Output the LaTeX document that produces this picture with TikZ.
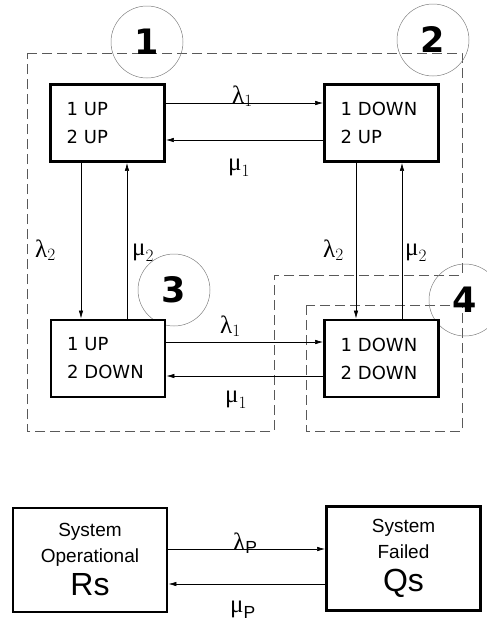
\documentclass[tikz,border=0pt]{standalone}
\usepackage{amsmath}
\usepackage{fontspec}
\setsansfont{Liberation Sans}
\newfontfamily\statefont{DejaVu Sans}
\newfontfamily\greekfont{Liberation Serif}
\newcommand{\gl}{\text{\greekfont λ}}
\newcommand{\gm}{\text{\greekfont μ}}
\usetikzlibrary{arrows.meta}

\begin{document}
\begin{tikzpicture}[x=1pt,y=-1pt,
  >={Latex[length=8pt,width=4.5pt]},
  state/.style={draw,fill=white,line width=2.8pt,minimum height=77pt,text width=82pt,inner xsep=16pt,align=left,font=\statefont\fontsize{18}{28}\selectfont},
  sysbox/.style={draw,fill=white,line width=2.8pt,minimum width=154pt,minimum height=104pt,align=center,font=\sffamily\fontsize{19}{26}\selectfont},
  flow/.style={->,line width=0.6pt},
  rate/.style={anchor=base west,inner sep=0pt,font=\fontsize{25}{25}\selectfont},
  region/.style={gray!70!black,line width=0.7pt,dash pattern=on 10pt off 5pt},
  tag/.style={circle,draw=gray,line width=0.5pt,minimum size=72pt,inner sep=0pt,font=\statefont\bfseries\fontsize{35}{35}\selectfont}]
\useasboundingbox (0,0) rectangle (487,622);
% dashed groups
\draw[region] (27,53) -- (462,53) -- (462,275) -- (274,275) -- (274,431) -- (27,431) -- cycle;
\draw[region] (306,305) rectangle (462,431);
% state numbers
\node[tag] (t1) at (147,42) {1};
\node[tag] (t2) at (433,40) {2};
\node[tag] (t3) at (174,290) {3};
\node[tag] (t4) at (465,300) {4};
% states
\node[state] (s1) at (107.5,123) {1 UP\\2 UP};
\node[state] (s2) at (381.5,123) {1 DOWN\\2 UP};
\node[state] (s3) at (108,358.5) {1 UP\\2 DOWN};
\node[state] (s4) at (381.5,358.5) {1 DOWN\\2 DOWN};
% transitions
\draw[flow] ([yshift=20pt]s1.east) -- ([yshift=20pt]s1.east -| s2.west);
\draw[flow] ([yshift=-17pt]s1.east -| s2.west) -- ([yshift=-17pt]s1.east);
\draw[flow] ([xshift=-26.5pt]s1.south) -- ([xshift=-26.5pt]s1.south |- s3.north);
\draw[flow] ([xshift=19.5pt]s1.south |- s3.north) -- ([xshift=19.5pt]s1.south);
\draw[flow] ([xshift=-25.5pt]s2.south) -- ([xshift=-25.5pt]s2.south |- s4.north);
\draw[flow] ([xshift=20.5pt]s2.south |- s4.north) -- ([xshift=20.5pt]s2.south);
\draw[flow] ([yshift=16.5pt]s3.east) -- ([yshift=16.5pt]s3.east -| s4.west);
\draw[flow] ([yshift=-17.5pt]s3.east -| s4.west) -- ([yshift=-17.5pt]s3.east);
\node[rate] (la1) at (232,103) {$\gl_1$};
\node[rate] (mu1) at (228,170) {$\gm_1$};
\node[rate] (la2) at (35,257) {$\gl_2$};
\node[rate] (mu2) at (132,255) {$\gm_2$};
\node[rate] (lb2) at (323,257) {$\gl_2$};
\node[rate] (mv2) at (405,255) {$\gm_2$};
\node[rate] (lb1) at (220,333) {$\gl_1$};
\node[rate] (mv1) at (225,402) {$\gm_1$};
% two-state model
\node[sysbox] (op) at (90,560) {System\\Operational\\[7pt]{\fontsize{32}{32}\selectfont Rs}};
\node[sysbox] (fail) at (403.5,558.5) {System\\Failed\\[7pt]{\fontsize{32}{32}\selectfont Qs}};
\draw[flow] ([yshift=11pt]op.east) -- ([yshift=11pt]op.east -| fail.west);
\draw[flow] ([yshift=-24pt]op.east -| fail.west) -- ([yshift=-24pt]op.east);
\node[rate] (lap) at (233,550) {$\gl_{\text{\sffamily P}}$};
\node[rate] (mup) at (230,612) {$\gm_{\text{\sffamily P}}$};
\end{tikzpicture}
\end{document}
